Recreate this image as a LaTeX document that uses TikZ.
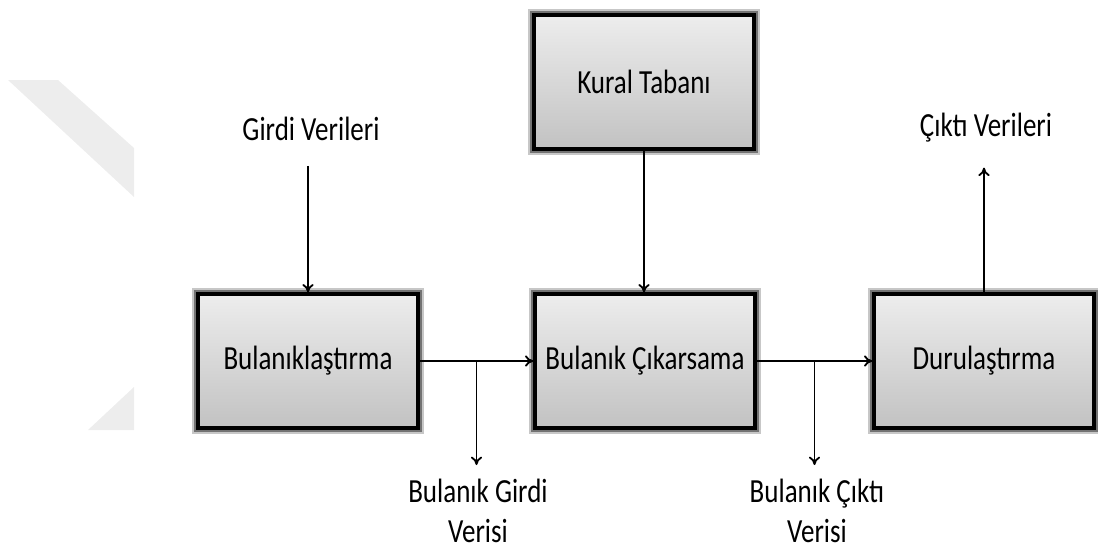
\documentclass[tikz,border=0pt]{standalone}
\usepackage{fontspec}
\setmainfont{Carlito}
\usetikzlibrary{arrows.meta,calc}
\newcommand{\dar}[1]{\scalebox{0.8}[1]{#1}}
\tikzset{blok/.style={draw=black, line width=2.2pt, minimum width=5.5cm, minimum height=3.35cm,
  top color=black!7, bottom color=black!24,
  preaction={draw=black!22, line width=8pt}, preaction={draw=black!55, line width=5pt},
  font=\fontsize{24}{28.5}\selectfont},
  etiket/.style={inner sep=0pt, align=center, font=\fontsize{24}{28.5}\selectfont},
  ok/.style={-{To[length=6pt,width=8pt]}, line width=1.3pt}}

\begin{document}
\begin{tikzpicture}[x=0.025cm, y=-0.025cm]
  \useasboundingbox (0,0) rectangle (1098,554);
  % soluk filigran
  \fill[black!7] (8,80) -- (58,80) -- (134,148) -- (134,197) -- cycle;
  \fill[black!7] (88,430) -- (134,387) -- (134,430) -- cycle;

  \node[blok] (kural) at (644,82) {\dar{Kural Tabanı}};
  \node[blok] (bul) at (308,361) {\dar{Bulanıklaştırma}};
  \node[blok] (cik) at (645,361) {\dar{Bulanık Çıkarsama}};
  \node[blok] (dur) at (984,361) {\dar{Durulaştırma}};

  \node[etiket] (girdi) at (311,129) {\dar{Girdi Verileri}};
  \node[etiket] (cikti) at (986,128) {\dar{Çıktı Verileri}};
  \node[etiket, anchor=north] (bgv) at (478,479) {\dar{Bulanık Girdi}\\\dar{Verisi}};
  \node[etiket, anchor=north] (bcv) at (817,479) {\dar{Bulanık Çıktı}\\\dar{Verisi}};

  % ayrilma noktalari
  \coordinate (gs) at ($(bul.east)!0.5!(cik.west)$);
  \coordinate (cs) at ($(cik.east)!0.5!(dur.west)$);

  \draw[ok, shorten <=0.62cm] (bul.north |- girdi.south) -- (bul.north);
  \draw[ok] (kural.south) -- (kural.south |- cik.north);
  \draw[ok] (bul) -- (cik);
  \draw[ok] (cik) -- (dur);
  \draw[ok, shorten >=0.35cm] (gs) -- (gs |- bgv.north);
  \draw[ok, shorten >=0.35cm] (cs) -- (cs |- bcv.north);
  \draw[ok, shorten >=0.62cm] (dur.north) -- (dur.north |- cikti.south);
\end{tikzpicture}
\end{document}
